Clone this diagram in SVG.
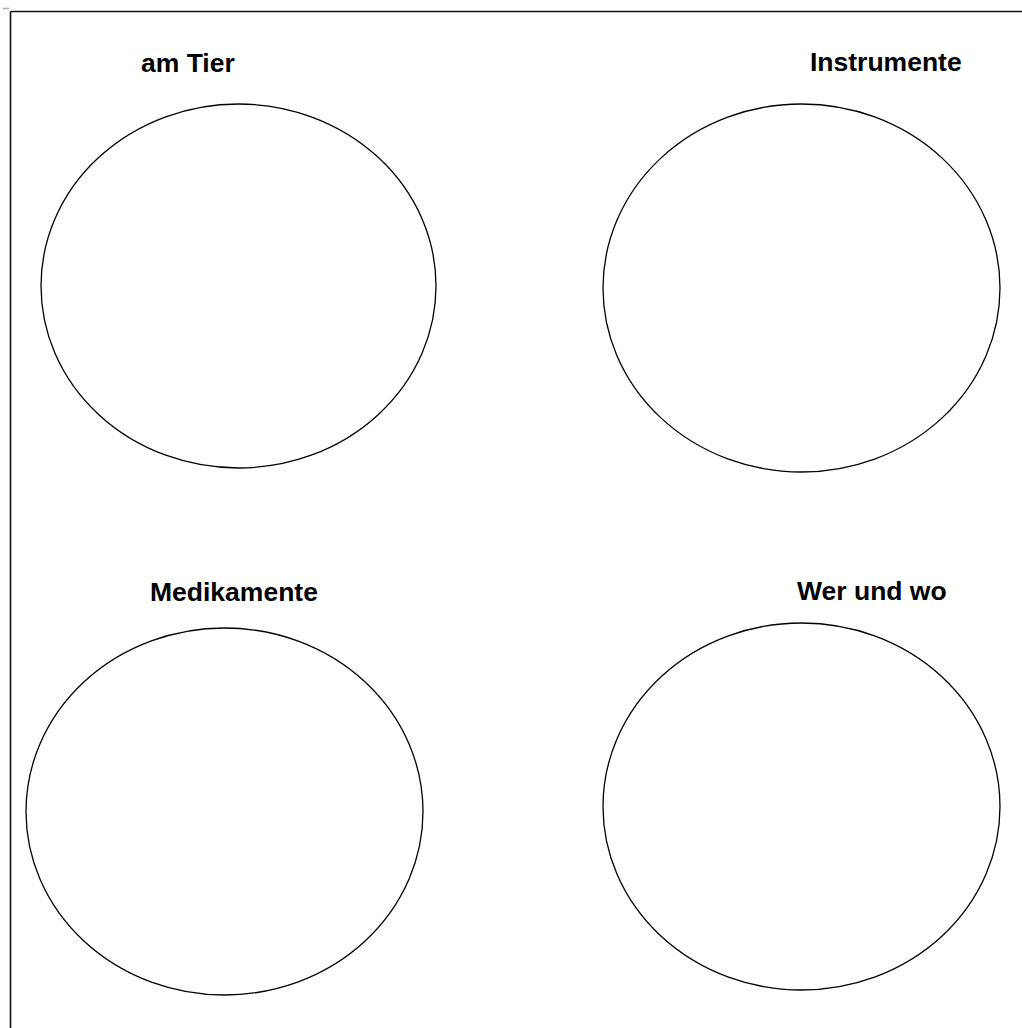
<svg xmlns="http://www.w3.org/2000/svg" width="1022" height="1028" viewBox="0 0 1022 1028">
<style>
.frame{stroke:#111;stroke-width:1.6;fill:none}
.circ{fill:#fff;stroke:#000;stroke-width:1.3}
.lbl{font-family:"Liberation Sans",Arial,sans-serif;font-weight:bold;font-size:26.5px;fill:#000}
</style>
<rect width="1022" height="1028" fill="#fff"/>
<g id="frame">
<line class="frame" x1="10.5" y1="11.5" x2="1022" y2="11.5"/>
<line class="frame" x1="10.5" y1="11.5" x2="10.5" y2="1028"/>
<line x1="3" y1="8.5" x2="9" y2="8.5" stroke="#aaa" stroke-width="1.5"/>
</g>
<g id="connectors"></g>
<g id="node-am-tier">
<ellipse class="circ" cx="238.5" cy="286" rx="197.5" ry="182"/>
<text class="lbl" x="141" y="72">am Tier</text>
</g>
<g id="node-instrumente">
<ellipse class="circ" cx="801.5" cy="288" rx="198.5" ry="184"/>
<text class="lbl" x="810" y="71">Instrumente</text>
</g>
<g id="node-medikamente">
<ellipse class="circ" cx="224.5" cy="811.5" rx="198.5" ry="183.5"/>
<text class="lbl" x="150" y="601">Medikamente</text>
</g>
<g id="node-wer-und-wo">
<ellipse class="circ" cx="801.5" cy="806.5" rx="198.5" ry="183.5"/>
<text class="lbl" x="797" y="600">Wer und wo</text>
</g>
</svg>
